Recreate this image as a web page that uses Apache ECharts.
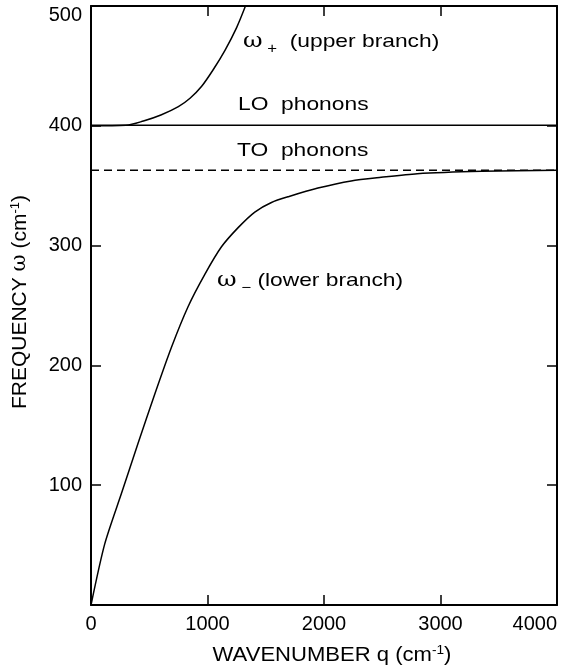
<!DOCTYPE html>
<html>
<head>
<meta charset="utf-8">
<style>
  html, body { margin: 0; padding: 0; background: #fff; }
  #chart { width: 568px; height: 669px; }
</style>
<script src="https://cdn.jsdelivr.net/npm/echarts@6/dist/echarts.min.js"></script>
</head>
<body>
<div id="chart"></div>
<script>
// wavenumber q (cm-1) and frequency (cm-1)
var lowerQ = [0, 118, 261, 404, 547, 690, 833, 977, 1120, 1263, 1406, 1549, 1700, 1948, 2233, 2491, 2800, 3353, 4000]
var lowerW = [0, 51, 93, 135, 176, 215, 249, 276, 299, 315, 328, 336, 341, 348, 354, 357, 360, 362, 363]
var upperQ = [0, 300, 450, 600, 750, 850, 950, 1050, 1150, 1250, 1330]
var upperW = [400, 400.5, 404, 409, 416, 423, 433, 447, 463, 482, 501]
var loQ = [0, 4000]
var loW = [400.5, 400.5]
var toQ = [0, 4000]
var toW = [363, 363]
var xTicks = [0, 1000, 2000, 3000, 4000]
var yTicks = [100, 200, 300, 400, 500]

function pairs (xs, ys) {
  var out = []
  for (var i = 0; i < xs.length; i++) out.push([xs[i], ys[i]])
  return out
}

var dom = document.getElementById('chart')
var myChart = echarts.init(dom)
var font = 'Liberation Sans, Arial, sans-serif'

function lineSeries (xs, ys, dashed, smooth) {
  return {
    type: 'line',
    data: pairs(xs, ys),
    smooth: smooth || false,
    symbol: 'none',
    clip: true,
    lineStyle: { color: '#000', width: 1.5, type: dashed ? [8, 5] : 'solid' }
  }
}

function axisBase (pos, showLabel) {
  return {
    type: 'value',
    position: pos,
    splitLine: { show: false },
    axisLine: { show: true, onZero: false, lineStyle: { color: '#000', width: 2 } },
    axisTick: { show: true, inside: true, length: 10, lineStyle: { color: '#000', width: 1.5 } },
    axisLabel: {
      show: showLabel,
      color: '#000',
      fontFamily: font,
      fontSize: 20,
      margin: 9
    }
  }
}

var xBottom = axisBase('bottom', true)
xBottom.min = 0; xBottom.max = 4000; xBottom.interval = 1000
xBottom.axisLabel.alignMaxLabel = 'right'
xBottom.axisLabel.formatter = function (v) { return xTicks.indexOf(v) >= 0 ? String(v) : '' }
var xTop = axisBase('top', false)
xTop.min = 0; xTop.max = 4000; xTop.interval = 1000
var yLeft = axisBase('left', true)
yLeft.min = 0; yLeft.max = 500; yLeft.interval = 100
yLeft.axisLabel.showMinLabel = false
// top label sits a little below the frame corner
yLeft.axisLabel.formatter = function (v) {
  if (v === 500) return '{top|' + v + '}'
  return yTicks.indexOf(v) >= 0 ? String(v) : ''
}
yLeft.axisLabel.rich = { top: { fontFamily: font, fontSize: 20, color: '#000', padding: [18, 0, 0, 0] } }
var yRight = axisBase('right', false)
yRight.min = 0; yRight.max = 500; yRight.interval = 100

var rich = {
  w: { fontFamily: 'DejaVu Serif, serif', fontSize: 20, color: '#000' },
  s: { fontFamily: font, fontSize: 14, color: '#000', padding: [14, 0, 0, 0] },
  t: { fontFamily: font, fontSize: 19, color: '#000' },
  a: { fontFamily: font, fontSize: 21, color: '#000' },
  aw: { fontFamily: 'DejaVu Serif, serif', fontSize: 21, color: '#000' },
  p: { fontFamily: font, fontSize: 13, color: '#000', padding: [0, 0, 9, 0] }
}

// annotation text, a bit stretched like the scanned figure
function txt (left, mid, text) {
  return {
    type: 'text',
    x: left,
    y: mid,
    scaleX: 1.2,
    style: { text: text, rich: rich, fill: '#000', align: 'left', verticalAlign: 'middle' }
  }
}

option = {
  animation: false,
  backgroundColor: '#fff',
  grid: { left: 91, right: 11, top: 6, bottom: 64, outerBoundsMode: 'none', containLabel: false },
  xAxis: [xBottom, xTop],
  yAxis: [yLeft, yRight],
  series: [
    lineSeries(lowerQ, lowerW, false, 0.25),
    lineSeries(upperQ, upperW, false, 0.3),
    lineSeries(loQ, loW, false),
    lineSeries(toQ, toW, true)
  ],
  graphic: [
    txt(243, 42, '{w|ω}{s| +}{t|  (upper branch)}'),
    txt(238, 105, '{t|LO  phonons}'),
    txt(237, 151, '{t|TO  phonons}'),
    txt(217, 281, '{w|ω}{s| −}{t| (lower branch)}'),
    {
      type: 'text',
      x: 332, y: 655,
      scaleX: 1.05,
      style: { text: '{a|WAVENUMBER q (cm}{p|-1}{a|)}', rich: rich, align: 'center', verticalAlign: 'middle' }
    },
    {
      type: 'text',
      x: 20, y: 302,
      rotation: Math.PI / 2,
      style: { text: '{a|FREQUENCY }{aw|ω}{a| (cm}{p|-1}{a|)}', rich: rich, align: 'center', verticalAlign: 'middle' }
    }
  ]
}
myChart.setOption(option)
</script>
</body>
</html>
